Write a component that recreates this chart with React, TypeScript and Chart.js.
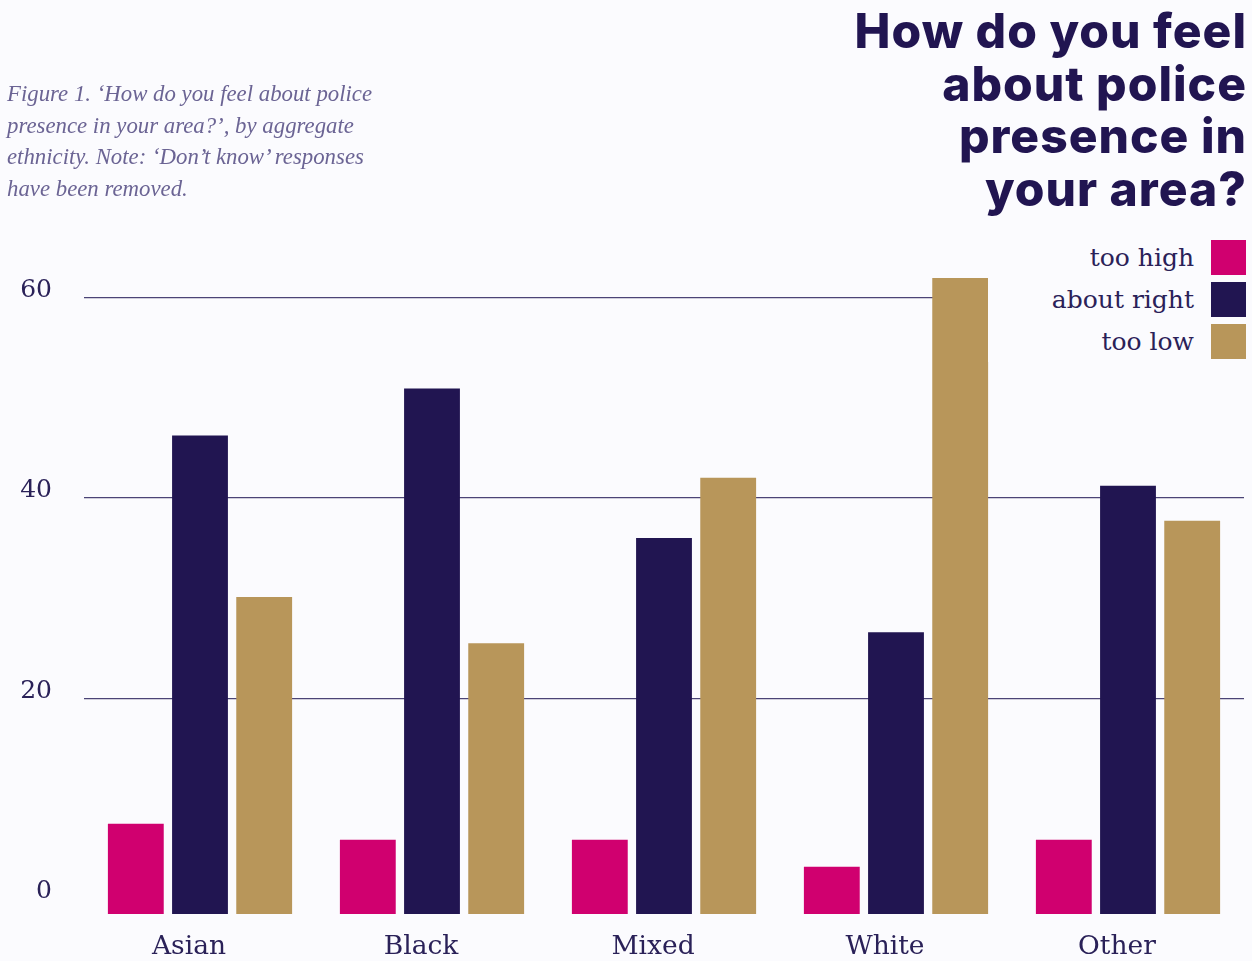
import React, { useEffect, useRef } from "react";
import { Chart, registerables } from "chart.js";

Chart.register(...registerables);

const categories = ["Asian", "Black", "Mixed", "White", "Other"];
const seriesNames = ["too high", "about right", "too low"];
const tooHigh = [7.5, 5.9, 5.9, 3.2, 5.9];
const aboutRight = [46.2, 50.9, 36.0, 26.6, 41.2];
const tooLow = [30.1, 25.5, 42.0, 61.9, 37.7];
const seriesColors = ["#d0006f", "#211551", "#b8965a"];
const yTicks = [0, 20, 40, 60];

const titleLines = ["How do you feel", "about police", "presence in", "your area?"];
const noteLines = [
  "Figure 1. \u2018How do you feel about police",
  "presence in your area?\u2019, by aggregate",
  "ethnicity. Note: \u2018Don\u2019t know\u2019 responses",
  "have been removed.",
];

const BG = "#fbfbfe";
const TEXT = "#2a2158";
const SERIF = "'DejaVu Serif', serif";
const BAR_BASE = -1.5;

export default function App() {
  const canvasRef = useRef<HTMLCanvasElement | null>(null);

  useEffect(() => {
    document.body.style.margin = "0";
    document.body.style.background = BG;
    const canvas = canvasRef.current;
    if (!canvas) return;
    const chart = new Chart(canvas, {
      type: "bar",
      data: {
        labels: categories,
        datasets: [tooHigh, aboutRight, tooLow].map((d, i) => ({
          label: seriesNames[i],
          data: d,
          backgroundColor: seriesColors[i],
          borderWidth: 0,
          base: BAR_BASE,
          categoryPercentage: 0.83,
          barPercentage: 0.87,
        })),
      },
      options: {
        animation: false,
        responsive: false,
        maintainAspectRatio: false,
        layout: { padding: { top: 237, right: 8, bottom: 0, left: 0 } },
        plugins: {
          legend: { display: false },
          title: { display: false },
          tooltip: { enabled: false },
        },
        scales: {
          x: {
            afterFit: (scale: any) => {
              scale.height = 46;
            },
            grid: { display: false, drawTicks: false },
            border: { display: false },
            ticks: {
              color: TEXT,
              font: { family: SERIF, size: 26.5 },
              padding: 17,
              labelOffset: -11,
              maxRotation: 0,
            },
          },
          y: {
            min: BAR_BASE,
            max: 66,
            afterBuildTicks: (scale: any) => {
              scale.ticks = yTicks.map((v) => ({ value: v }));
            },
            afterFit: (scale: any) => {
              scale.width = 84;
            },
            grid: {
              drawTicks: false,
              color: (ctx: any) => (ctx.tick && ctx.tick.value === 0 ? "rgba(0,0,0,0)" : "#4b4476"),
              lineWidth: 1.2,
            },
            border: { display: false },
            ticks: {
              color: TEXT,
              font: { family: SERIF, size: 25 },
              padding: 32,
              labelOffset: -7,
            },
          },
        },
      },
    });
    return () => chart.destroy();
  }, []);

  return (
    <div style={{ position: "relative", width: 1252, height: 961, background: BG, overflow: "hidden" }}>
      <canvas ref={canvasRef} width={1252} height={961} style={{ position: "absolute", left: 0, top: 0 }} />
      <div
        style={{
          position: "absolute",
          left: 7,
          top: 78,
          fontFamily: "'Liberation Serif', serif",
          fontStyle: "italic",
          fontSize: 22.8,
          lineHeight: "31.7px",
          color: "#6b6494",
          whiteSpace: "nowrap",
        }}
      >
        {noteLines.map((l, i) => (
          <div key={i}>{l}</div>
        ))}
      </div>
      <div
        style={{
          position: "absolute",
          right: 5,
          top: 5,
          textAlign: "right",
          fontFamily: "Inter, 'Open Sans', sans-serif",
          fontWeight: 800,
          fontSize: 48,
          letterSpacing: "1px",
          lineHeight: "52.5px",
          color: "#211551",
          whiteSpace: "nowrap",
        }}
      >
        {titleLines.map((l, i) => (
          <div key={i}>{l}</div>
        ))}
      </div>
      <div
        style={{
          position: "absolute",
          left: 988,
          top: 236,
          width: 264,
          height: 126,
          background: BG,
        }}
      >
        {seriesNames.map((n, i) => (
          <div
            key={i}
            style={{
              position: "absolute",
              right: 6,
              top: 4 + i * 42,
              height: 35,
              display: "flex",
              alignItems: "center",
            }}
          >
            <span
              style={{
                fontFamily: SERIF,
                fontSize: 25,
                color: TEXT,
                marginRight: 17,
                whiteSpace: "nowrap",
              }}
            >
              {n}
            </span>
            <span style={{ width: 35, height: 35, background: seriesColors[i], display: "inline-block" }} />
          </div>
        ))}
      </div>
    </div>
  );
}
